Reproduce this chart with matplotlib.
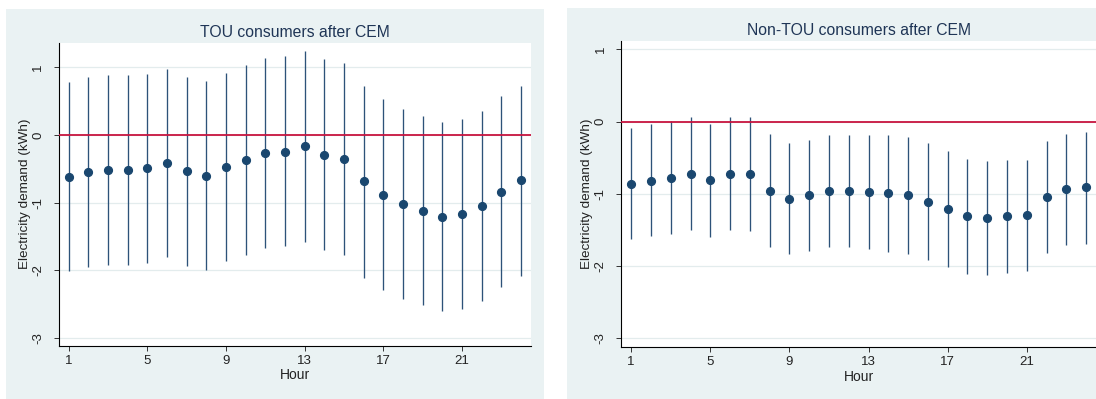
import matplotlib
matplotlib.use('Agg')
import matplotlib.pyplot as plt
from matplotlib.patches import Rectangle

plt.rcParams['font.family'] = ['Liberation Sans', 'DejaVu Sans']

hours = list(range(1, 25))
xticks = [1, 5, 9, 13, 17, 21]
yticks = [1, 0, -1, -2, -3]

tou_coef = [-0.62, -0.55, -0.52, -0.52, -0.49, -0.42, -0.54, -0.61, -0.48, -0.37, -0.27, -0.25,
            -0.17, -0.30, -0.36, -0.68, -0.89, -1.02, -1.12, -1.21, -1.17, -1.05, -0.84, -0.67]
tou_hi = [0.79, 0.85, 0.88, 0.88, 0.90, 0.98, 0.86, 0.80, 0.92, 1.03, 1.14, 1.16,
          1.24, 1.12, 1.06, 0.73, 0.53, 0.39, 0.28, 0.19, 0.24, 0.35, 0.58, 0.73]
tou_lo = [-2.02, -1.96, -1.93, -1.93, -1.89, -1.81, -1.94, -2.00, -1.87, -1.77, -1.67, -1.65,
          -1.58, -1.70, -1.77, -2.11, -2.30, -2.43, -2.52, -2.61, -2.58, -2.46, -2.25, -2.08]

non_coef = [-0.86, -0.82, -0.78, -0.72, -0.81, -0.72, -0.72, -0.96, -1.07, -1.02, -0.96, -0.96,
            -0.98, -0.99, -1.02, -1.11, -1.21, -1.31, -1.33, -1.31, -1.30, -1.04, -0.94, -0.91]
non_hi = [-0.09, -0.04, 0.01, 0.07, -0.03, 0.06, 0.06, -0.17, -0.30, -0.25, -0.18, -0.18,
          -0.19, -0.19, -0.22, -0.30, -0.41, -0.52, -0.54, -0.53, -0.53, -0.27, -0.17, -0.14]
non_lo = [-1.63, -1.59, -1.56, -1.50, -1.60, -1.50, -1.51, -1.74, -1.84, -1.79, -1.73, -1.74,
          -1.76, -1.80, -1.83, -1.92, -2.01, -2.11, -2.12, -2.09, -2.07, -1.82, -1.71, -1.69]

BG = '#eaf2f3'
NAVY = '#1a476f'

fig = plt.figure(figsize=(10.96, 3.99), dpi=100)
fig.patch.set_facecolor('white')
fig.patches.append(Rectangle((6 / 1096, 0), (544 - 6) / 1096, 1 - 9 / 399,
                             transform=fig.transFigure, facecolor=BG, edgecolor='none', zorder=-10))
fig.patches.append(Rectangle((567 / 1096, 0), (1096 - 567) / 1096, 1 - 8 / 399,
                             transform=fig.transFigure, facecolor=BG, edgecolor='none', zorder=-10))

ax1 = fig.add_axes([59 / 1096, 1 - 345.7 / 399, (530.7 - 59) / 1096, (345.7 - 42.7) / 399])
ax2 = fig.add_axes([621.3 / 1096, 1 - 347.3 / 399, (1096 - 621.3) / 1096, (347.3 - 40.7) / 399])

panels = [
    (ax1, tou_coef, tou_lo, tou_hi, 'TOU consumers after CEM', (-3.118, 1.364)),
    (ax2, non_coef, non_lo, non_hi, 'Non-TOU consumers after CEM', (-3.125, 1.12)),
]

for ax, coef, lo, hi, title, ylim in panels:
    ax.set_facecolor('white')
    ax.set_axisbelow(True)
    ax.yaxis.grid(True, color='#e3eced', lw=0.9)
    ax.vlines(hours, lo, hi, color='#2d5279', lw=0.95, zorder=2)
    ax.axhline(0, color='#c8143f', lw=1.3, zorder=3)
    ax.plot(hours, coef, 'o', ms=5.6, color=NAVY, mec=NAVY, zorder=4)
    ax.set_xlim(0.5, 24.5)
    ax.set_ylim(*ylim)
    ax.set_xticks(xticks)
    ax.set_yticks(yticks)
    ax.set_yticklabels([str(v) for v in yticks], rotation=90, va='center')
    for s in ['top', 'right']:
        ax.spines[s].set_visible(False)
    for s in ['left', 'bottom']:
        ax.spines[s].set_color('black')
        ax.spines[s].set_linewidth(0.8)
    ax.tick_params(axis='both', direction='out', length=3.6, width=0.7, color='#333333',
                   labelsize=9.5, labelcolor='#222222')
    ax.tick_params(axis='y', pad=7)
    ax.tick_params(axis='x', pad=3)
    ax.set_title(title, fontsize=11.3, color='#1f3556', pad=4)
    ax.set_xlabel('Hour', fontsize=10, color='#222222', labelpad=1)
    ax.set_ylabel('Electricity demand (kWh)', fontsize=9.7, color='#222222')

ax1.yaxis.set_label_coords(-0.059, 0.5)
ax2.yaxis.set_label_coords(-0.059, 0.5)

fig.savefig('out.png', dpi=100, facecolor='white')
